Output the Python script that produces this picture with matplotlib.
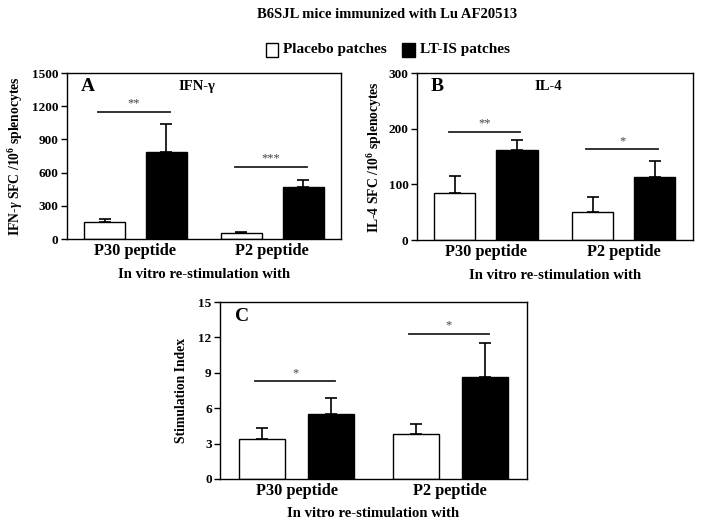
import numpy as np
import matplotlib
matplotlib.use("Agg")
import matplotlib.pyplot as plt
from matplotlib.patches import Rectangle

plt.rcParams["font.family"] = ["Liberation Serif", "DejaVu Serif"]
plt.rcParams["font.weight"] = "bold"
plt.rcParams["mathtext.fontset"] = "custom"
plt.rcParams["mathtext.rm"] = "Liberation Serif:bold"
plt.rcParams["mathtext.bf"] = "Liberation Serif:bold"
plt.rcParams["mathtext.it"] = "Liberation Serif:italic:bold"

# data
grupos = ["P30 peptide", "P2 peptide"]
series = ["Placebo patches", "LT-IS patches"]

ifn_placebo = [150, 58]
ifn_placebo_err = [33, 8]
ifn_lt = [790, 472]
ifn_lt_err = [250, 65]

il4_placebo = [85, 51]
il4_placebo_err = [30, 27]
il4_lt = [161, 114]
il4_lt_err = [18, 28]

si_placebo = [3.4, 3.85]
si_placebo_err = [0.93, 0.77]
si_lt = [5.53, 8.63]
si_lt_err = [1.37, 2.93]

# significancia: (altura, texto) por grupo
ifn_sig = [(1150, "**"), (655, "***")]
il4_sig = [(195, "**"), (163, "*")]
si_sig = [(8.3, "*"), (12.3, "*")]

fig = plt.figure(figsize=(7.04, 5.22), dpi=100)

fig.text(387 / 704, 1 - 14 / 522, "B6SJL mice immunized with Lu AF20513", ha="center", va="center",
         fontsize=10.5, fontweight="bold")

# legenda feita a mao
fig.patches.append(Rectangle((266 / 704, 1 - 57 / 522), 12 / 704, 14 / 522, transform=fig.transFigure,
                             facecolor="white", edgecolor="black", lw=1))
fig.text(283 / 704, 1 - 49 / 522, series[0], ha="left", va="center", fontsize=11)
fig.patches.append(Rectangle((402 / 704, 1 - 57 / 522), 13 / 704, 14 / 522, transform=fig.transFigure,
                             facecolor="black", edgecolor="black", lw=1))
fig.text(420 / 704, 1 - 49 / 522, series[1], ha="left", va="center", fontsize=11)


def painel(rect, placebo, placebo_err, lt, lt_err, sig, ymax, passo, ylabel, letra, titulo, ylab_x):
    ax = fig.add_axes(rect)
    x = np.arange(len(grupos))
    desl = 0.225
    larg = 0.30
    ax.bar(x - desl, placebo, larg, color="white", edgecolor="black", lw=1,
           yerr=[np.zeros(len(placebo)), placebo_err], capsize=4,
           error_kw=dict(lw=1.2, capthick=1.2, ecolor="black"), zorder=2)
    ax.bar(x + desl, lt, larg, color="black", edgecolor="black", lw=1,
           yerr=[np.zeros(len(lt)), lt_err], capsize=4,
           error_kw=dict(lw=1.2, capthick=1.2, ecolor="black"), zorder=2)
    for xi, (h, txt) in zip(x, sig):
        ax.plot([xi - 0.27, xi + 0.25], [h, h], color="#222222", lw=1.3)
        ax.text(xi - 0.01, h + ymax * 0.012, txt, ha="center", va="bottom", fontsize=9,
                color="#444444", fontweight="normal")
    ax.set_xlim(-0.5, 1.5)
    ax.set_ylim(0, ymax)
    ax.set_yticks(np.arange(0, ymax + passo / 2, passo))
    ax.set_xticks(x)
    ax.set_xticklabels(grupos, fontsize=11.8, fontweight="bold")
    ax.tick_params(axis="x", length=0, pad=3)
    ax.tick_params(axis="y", direction="out", length=4, width=1, labelsize=9.5, pad=2)
    for lab in ax.get_yticklabels():
        lab.set_fontweight("bold")
    for sp in ax.spines.values():
        sp.set_linewidth(1)
    ax.set_xlabel("In vitro re-stimulation with", fontsize=10.6, fontweight="bold", labelpad=6)
    ax.set_ylabel(ylabel, fontsize=9.8, fontweight="bold")
    ax.yaxis.set_label_coords(ylab_x, 0.5)
    ax.text(0.05, 0.92, letra, transform=ax.transAxes, ha="left", va="center", fontsize=14,
            fontweight="bold")
    if titulo:
        ax.text(0.475, 0.92, titulo, transform=ax.transAxes, ha="center", va="center", fontsize=10.5,
                fontweight="bold")
    return ax


painel([0.095, 0.542, 0.389, 0.318], ifn_placebo, ifn_placebo_err, ifn_lt, ifn_lt_err, ifn_sig,
       1500, 300, "IFN-$\\gamma$ SFC /10$^6$ splenocytes", "A", "IFN-\u03b3", -0.152)
painel([0.592, 0.540, 0.392, 0.320], il4_placebo, il4_placebo_err, il4_lt, il4_lt_err, il4_sig,
       300, 100, "IL-4 SFC /10$^6$ splenocytes", "B", "IL-4", -0.118)
painel([0.3125, 0.0824, 0.436, 0.339], si_placebo, si_placebo_err, si_lt, si_lt_err, si_sig,
       15, 3, "Stimulation Index", "C", None, -0.103)

fig.savefig("out.png", dpi=100)
